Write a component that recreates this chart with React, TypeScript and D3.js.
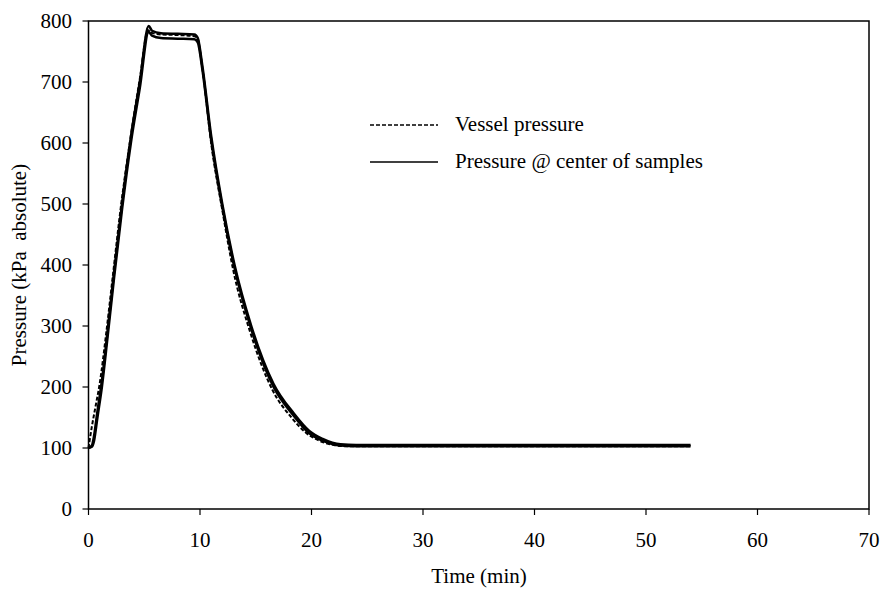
import React from "react";
import * as d3 from "d3";

// ---- data ----
const vesselTime = [0, 0.3, 0.6, 1.0, 1.6, 2.2, 2.9, 3.7, 4.6, 5.35, 5.6, 6.5, 8, 9.5, 9.8, 10.2, 11.0, 12.0, 13.0, 14.5, 16.5, 18.2, 19.5, 20.7, 22, 23, 25, 54];
const vesselPressure = [100, 135, 165, 205, 290, 385, 495, 600, 705, 785, 781, 778, 777, 775, 770, 725, 600, 490, 390, 290, 195, 150, 125, 112, 105, 103, 103, 103];

const centerTime = [0, 0.3, 0.5, 0.8, 1.2, 1.7, 2.3, 3.0, 3.8, 4.6, 5.4, 5.7, 6.5, 8, 9.5, 9.8, 10.2, 11.0, 12.0, 13.1, 14.6, 16.6, 18.4, 19.8, 21.0, 22.6, 24, 54];
const centerPressureA = [100, 104, 120, 160, 210, 290, 390, 500, 610, 700, 792, 784, 780, 779, 778, 772, 728, 612, 500, 400, 300, 205, 157, 128, 115, 106, 105, 105];
const centerPressureB = [100, 102, 112, 150, 200, 280, 380, 490, 600, 690, 782, 776, 772, 771, 770, 765, 722, 605, 495, 395, 295, 200, 153, 124, 112, 104, 103, 103];

const xTicks = [0, 10, 20, 30, 40, 50, 60, 70];
const yTicks = [0, 100, 200, 300, 400, 500, 600, 700, 800];

const legendLabels = ["Vessel pressure", "Pressure @ center of samples"];
const xTitle = "Time (min)";
const yTitle = "Pressure (kPa\u00a0 absolute)";

const W = 885;
const H = 589;
const left = 88.5;
const right = 869;
const top = 21;
const bottom = 509;
const FONT = '"Liberation Serif", "Times New Roman", Times, serif';

export default function App() {
  const x = d3.scaleLinear().domain([0, 70]).range([left, right]);
  const y = d3.scaleLinear().domain([0, 800]).range([bottom, top]);

  const mk = (ts: number[], ps: number[]) =>
    d3
      .line<number>()
      .x((_, i) => x(ts[i]))
      .y((p) => y(p))
      .curve(d3.curveMonotoneX)(ps) || "";

  const vesselPath = mk(vesselTime, vesselPressure);
  const pathA = mk(centerTime, centerPressureA);
  const pathB = mk(centerTime, centerPressureB);

  const txt = { fontFamily: FONT, fontSize: 21, fill: "#000" } as React.CSSProperties;

  return (
    <svg
      width={W}
      height={H}
      style={{ position: "absolute", left: 0, top: 0, background: "#fff", fontFamily: FONT }}
    >
      <rect x={0} y={0} width={W} height={H} fill="#fff" />
      {/* frame */}
      <rect x={left} y={top} width={right - left} height={bottom - top} fill="none" stroke="#000" strokeWidth={1.5} />

      {/* y ticks */}
      {yTicks.map((v) => (
        <g key={"y" + v}>
          <line x1={left - 6} x2={left} y1={y(v)} y2={y(v)} stroke="#000" strokeWidth={1.2} />
          <text x={72} y={y(v)} dy="0.35em" textAnchor="end" style={txt}>
            {v}
          </text>
        </g>
      ))}

      {/* x ticks */}
      {xTicks.map((v) => (
        <g key={"x" + v}>
          <line x1={x(v)} x2={x(v)} y1={bottom} y2={bottom + 6} stroke="#000" strokeWidth={1.2} />
          <text x={x(v)} y={547} textAnchor="middle" style={txt}>
            {v}
          </text>
        </g>
      ))}

      {/* axis titles */}
      <text x={479} y={583} textAnchor="middle" style={txt}>
        {xTitle}
      </text>
      <text
        transform={`translate(26, ${(top + bottom) / 2}) rotate(-90)`}
        textAnchor="middle"
        style={{ ...txt, whiteSpace: "pre" }}
      >
        {yTitle}
      </text>

      {/* series */}
      <path d={pathA} fill="none" stroke="#000" strokeWidth={2.5} strokeLinejoin="round" />
      <path d={pathB} fill="none" stroke="#000" strokeWidth={2.5} strokeLinejoin="round" />
      <path d={vesselPath} fill="none" stroke="#000" strokeWidth={2} strokeDasharray="4,2" />

      {/* legend */}
      <line x1={370} x2={438} y1={125} y2={125} stroke="#000" strokeWidth={1.5} strokeDasharray="4,2" />
      <text x={455} y={131} style={txt}>
        {legendLabels[0]}
      </text>
      <line x1={370} x2={438} y1={162} y2={162} stroke="#000" strokeWidth={1.5} />
      <text x={455} y={168} style={txt}>
        {legendLabels[1]}
      </text>
    </svg>
  );
}
